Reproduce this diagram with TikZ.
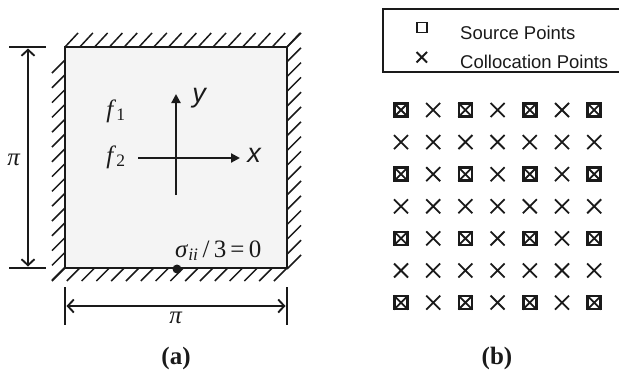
\documentclass[tikz,border=0pt]{standalone}
\usepackage{fontspec}
\setmainfont{Liberation Serif}
\newfontfamily\plSans{Liberation Sans}
\usetikzlibrary{arrows.meta}

\definecolor{plInk}{HTML}{1A1A1A}
\definecolor{plFill}{HTML}{F4F4F4}

\begin{document}
\begin{tikzpicture}[
  x=1pt, y=-1pt, text=plInk,
  pl edge/.style={draw=plInk,line width=2.2pt},
  pl hatch/.style={draw=plInk,line width=1.5pt},
  pl tick/.style={draw=plInk,line width=1.8pt},
  pl dim/.style={draw=plInk,line width=1.9pt,
    {Straight Barb[length=6pt,width=13pt]}-{Straight Barb[length=6pt,width=13pt]}},
  pl axis/.style={draw=plInk,line width=2.2pt,-{Triangle[length=9pt,width=9pt]}},
  pl cross/.style={draw=plInk,line width=1.8pt},
  pl box/.style={draw=plInk,line width=2.6pt},
  pl math/.style={font=\fontsize{25}{27}\selectfont},
  pl sans/.style={font=\plSans\fontsize{18.5}{20}\selectfont},
  pl axlab/.style={font=\plSans\itshape\fontsize{27}{29}\selectfont},
  pl cap/.style={font=\bfseries\fontsize{25}{27}\selectfont}
]
\useasboundingbox (0,0) rectangle (619,372);
% Plate corners and hatch step.
\def\xL{65}
\def\xR{287}
\def\yT{47}
\def\yB{268}
\def\hs{14.8}

% Clamped plate with hatched supports.
\coordinate (plTL) at (\xL,\yT);
\coordinate (plBR) at (\xR,\yB);
\fill[plFill] (plTL) rectangle (plBR);
\foreach \k in {0,...,15} {
  \draw[pl hatch] (\xL+\k*\hs,\yT) -- ++(13,-14);
  \draw[pl hatch] (\xR,\yT+\k*\hs) -- ++(14,-14);
}
\foreach \k in {0,...,14}
  \draw[pl hatch] (\xL,\yT+13+\k*\hs) -- ++(-13,13);
\foreach \k in {0,...,15}
  \draw[pl hatch] (\xL+\k*\hs,\yB) -- ++(-13,13);
\draw[pl edge] (plTL) rectangle (plBR);

% Dimension lines.
\draw[pl tick] (9,\yT) -- (46,\yT);
\draw[pl tick] (9,\yB) -- (46,\yB);
\coordinate (dimTop) at (28,\yT+1.5);
\coordinate (dimBot) at (28,\yB-1.5);
\draw[pl dim] (dimTop) -- (dimBot);
\node[pl math] (piLeft) at (14,160) {\textit{π}};
\draw[pl tick] (\xL,287) -- (\xL,325);
\draw[pl tick] (\xR,287) -- (\xR,325);
\coordinate (dimLeft) at (\xL+1.5,306);
\coordinate (dimRight) at (\xR-1.5,306);
\draw[pl dim] (dimLeft) -- (dimRight);
\node[pl math] (piBot) at (176,318) {\textit{π}};

% Coordinate axes and loads.
\coordinate (axO) at (176,158);
\coordinate (axYlo) at (176,195);
\coordinate (axYhi) at (176,94);
\coordinate (axXlo) at (138,158);
\coordinate (axXhi) at (240,158);
\draw[pl axis] (axYlo) -- (axYhi);
\draw[pl axis] (axXlo) -- (axXhi);
\node[pl axlab] (labY) at (199,98) {y};
\node[pl axlab] (labX) at (254,155) {x};
\node[pl math] (fOne) at (116,111) {\textit{f}\textsubscript{1}};
\node[pl math] (fTwo) at (116,157) {\textit{f}\textsubscript{2}};

% Boundary point.
\fill[plInk] (177,269) circle[radius=4.5];
\node[pl math,anchor=base west,inner sep=0pt] (bcLab) at (175,257)
  {\textit{σ}\textsubscript{\textit{ii}}\,/\,3\,=\,0};

% Legend.
\draw[pl tick,line width=1.3pt] (619,9) -- (383,9) -- (383,72) -- (619,72);
\draw[pl cross,line width=1.8pt] (417,22.5) rectangle (427,32.5);
\draw[pl cross] (416.5,52) -- (427,62.5) (416.5,62.5) -- (427,52);
\node[pl sans,anchor=west,inner sep=0pt] (legSrc) at (460,33) {Source Points};
\node[pl sans,anchor=west,inner sep=0pt] (legCol) at (460,62) {Collocation Points};

% Point grid: sources on even rows and columns.
\foreach \i in {0,...,6}
  \foreach \j in {0,...,6} {
    \pgfmathsetmacro\px{401+\i*32.2}
    \pgfmathsetmacro\py{110+\j*32.1}
    \draw[pl cross] (\px-7,\py-7) -- (\px+7,\py+7) (\px-7,\py+7) -- (\px+7,\py-7);
    \pgfmathtruncatemacro\odd{mod(\i,2)+mod(\j,2)}
    \ifnum\odd=0
      \draw[pl box] (\px-6.5,\py-6.5) rectangle (\px+6.5,\py+6.5);
    \fi
  }

% Captions.
\node[pl cap] (capA) at (176,358) {(a)};
\node[pl cap] (capB) at (497,358) {(b)};
\end{tikzpicture}
\end{document}
